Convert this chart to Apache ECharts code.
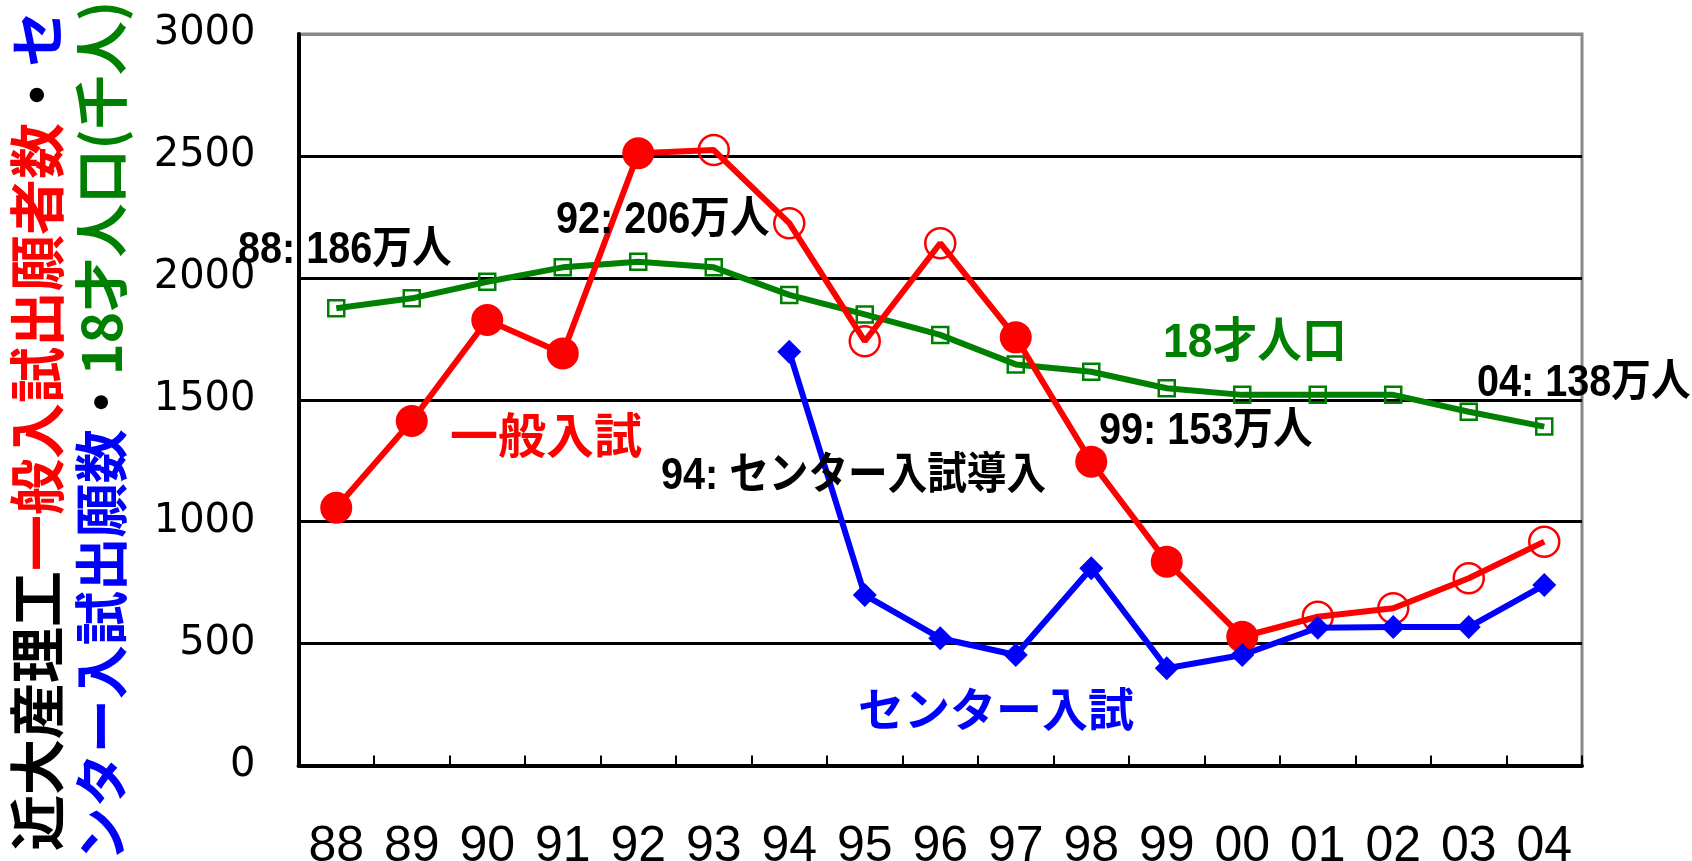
<!DOCTYPE html>
<html>
<head>
<meta charset="utf-8">
<script src="https://cdn.jsdelivr.net/npm/echarts@6/dist/echarts.min.js"></script>
<style>
html,body{margin:0;padding:0;background:#fff;}
#chart{width:1692px;height:861px;}
</style>
</head>
<body>
<div id="chart"></div>
<script>
const categories = ['88','89','90','91','92','93','94','95','96','97','98','99','00','01','02','03','04'];
const generalApplicants = [1057, 1413, 1827, 1690, 2511, 2524, 2224, 1740, 2142, 1756, 1246, 836, 528, 610, 645, 768, 918];
const centerApplicants = [null, null, null, null, null, null, 1697, 699, 522, 453, 809, 399, 453, 565, 568, 568, 740];
const population18 = [1875, 1916, 1984, 2043, 2066, 2043, 1930, 1850, 1766, 1645, 1615, 1547, 1520, 1520, 1520, 1451, 1390];
const yMin = 0, yMax = 3000, yStep = 500;

const hollowYears = ['93','94','95','96','01','02','03','04'];
const RED = '#ff0000', BLUE = '#0000ff', GREEN = '#008000';
const LATIN = '"Liberation Sans", "Noto Sans CJK JP", sans-serif';
const CJK = '"Noto Sans CJK JP", sans-serif';

const redData = generalApplicants.map((v, i) => {
  const hollow = hollowYears.includes(categories[i]);
  return hollow
    ? { value: v, symbolSize: 30, itemStyle: { color: 'rgba(0,0,0,0)', borderColor: RED, borderWidth: 2.5 } }
    : { value: v, symbolSize: 32, itemStyle: { color: RED, borderWidth: 0 } };
});

function note(text, x, y, color, size, family, sx) {
  return {
    type: 'text', x: x, y: y, z: 100, scaleX: sx || 1,
    style: { text: text, fill: color, fontSize: size, fontWeight: 'bold', fontFamily: family,
             align: 'left', verticalAlign: 'middle' }
  };
}

function tf(size, color) {
  return { fill: color, fontSize: size, fontWeight: 'bold', fontFamily: CJK, lineHeight: 64 };
}

const chart = echarts.init(document.getElementById('chart'), null, { renderer: 'canvas' });
chart.setOption({
  animation: false,
  backgroundColor: '#fff',
  grid: { left: 298.5, right: 110, top: 34, bottom: 95.5, containLabel: false, outerBoundsMode: 'none',
          show: true, borderColor: '#888', borderWidth: 3, backgroundColor: 'rgba(0,0,0,0)' },
  xAxis: {
    type: 'category', data: categories, boundaryGap: true,
    axisLine: { show: true, lineStyle: { color: '#000', width: 4 } },
    axisTick: { show: true, inside: true, length: 10, interval: 0, lineStyle: { color: '#000', width: 2 } },
    axisLabel: { color: '#000', fontSize: 50, fontFamily: '"Liberation Sans", sans-serif', margin: 57, interval: 0 },
    splitLine: { show: false }
  },
  yAxis: {
    type: 'value', min: yMin, max: yMax, interval: yStep,
    axisLine: { show: true, lineStyle: { color: '#000', width: 4 } },
    axisTick: { show: false },
    axisLabel: { color: '#000', fontSize: 40, fontFamily: '"DejaVu Sans", sans-serif', margin: 43,
                 formatter: v => String(v) },
    splitLine: { show: true, lineStyle: { color: ['#000','#000','#000','#000','#000','#000','#888'], width: 3 } }
  },
  series: [
    {
      name: '18才人口', type: 'line', data: population18,
      symbol: 'rect', symbolSize: 16, showSymbol: true, showAllSymbol: true,
      lineStyle: { color: GREEN, width: 6 },
      itemStyle: { color: 'rgba(0,0,0,0)', borderColor: GREEN, borderWidth: 2.5 },
      emphasis: { disabled: true }, z: 2
    },
    {
      name: '一般入試', type: 'line', data: redData,
      symbol: 'circle', showSymbol: true, showAllSymbol: true,
      lineStyle: { color: RED, width: 6 },
      itemStyle: { color: RED },
      emphasis: { disabled: true }, z: 3
    },
    {
      name: 'センター入試', type: 'line', data: centerApplicants, connectNulls: false,
      symbol: 'diamond', symbolSize: 24, showSymbol: true, showAllSymbol: true,
      lineStyle: { color: BLUE, width: 6 },
      itemStyle: { color: BLUE, borderWidth: 0 },
      emphasis: { disabled: true }, z: 4
    }
  ],
  graphic: [
    note('88: 186万人', 238, 251, '#000', 44, LATIN, 0.9),
    note('92: 206万人', 556, 221, '#000', 44, LATIN, 0.9),
    note('94: センター入試導入', 661, 477, '#000', 44, LATIN, 0.9),
    note('99: 153万人', 1099, 432, '#000', 44, LATIN, 0.9),
    note('04: 138万人', 1477, 384, '#000', 44, LATIN, 0.9),
    note('一般入試', 450, 435, RED, 48, CJK, 1),
    note('18才人口', 1163, 344, GREEN, 48, LATIN, 0.93),
    note('センター入試', 858, 709, BLUE, 46, CJK, 1),
    {
      type: 'text', x: 69, y: 431, rotation: Math.PI / 2, z: 100,
      style: Object.assign({
        text: '{k1|近大産理工}{r|一般入試出願者数}{k1|・}{b1|セ}\n{b2|ンター入試出願数}{k2|・}{g|18才人口(千人)}',
        align: 'center', verticalAlign: 'middle',
        rich: {
          k1: tf(56, '#000'),
          r: tf(56, RED),
          b1: tf(56, BLUE),
          b2: tf(54, BLUE),
          k2: tf(54, '#000'),
          g: tf(54, GREEN)
        }
      }, tf(54, '#000'))
    }
  ]
});
</script>
</body>
</html>
